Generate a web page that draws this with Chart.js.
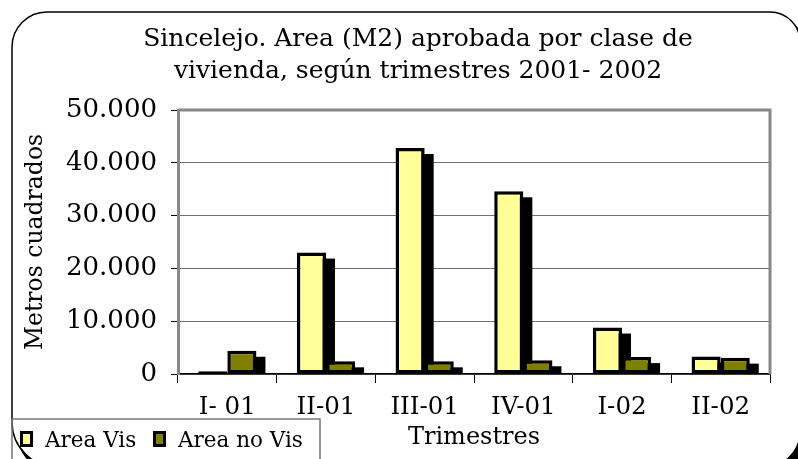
<!DOCTYPE html>
<html>
<head>
<meta charset="utf-8">
<script src="https://cdn.jsdelivr.net/npm/chart.js@4.4.0/dist/chart.umd.min.js"></script>
<style>
  body { margin: 0; background: #fff; }
  #wrap { width: 798px; height: 459px; }
</style>
</head>
<body>
<div id="wrap"><canvas id="areaChart" width="798" height="459"></canvas></div>
<script>
// Datos: área aprobada (m2) por trimestre
const trimestres = ['I- 01', 'II-01', 'III-01', 'IV-01', 'I-02', 'II-02'];
const areaVis = [500, 23000, 42800, 34600, 8800, 3300];
const areaNoVis = [4400, 2400, 2400, 2600, 3200, 3100];
const tituloLineas = ['Sincelejo. Area (M2) aprobada por clase de', 'vivienda, según trimestres 2001- 2002'];
const fuente = 'DejaVu Serif';

// Marco redondeado, sombras de barras, titulo y leyenda
const decoracion = {
    id: 'decoracion',
    beforeDraw(chart) {
        const ctx = chart.ctx;
        ctx.save();
        ctx.fillStyle = '#000';
        ctx.beginPath();
        ctx.roundRect(16, 16, 788, 459, [35, 30, 35, 45]);
        ctx.fill();
        ctx.fillStyle = '#fff';
        ctx.strokeStyle = '#000';
        ctx.lineWidth = 1.5;
        ctx.beginPath();
        ctx.roundRect(12, 12, 788, 455, [35, 30, 35, 45]);
        ctx.fill();
        ctx.stroke();
        ctx.restore();
    },
    beforeDatasetsDraw(chart) {
        const ctx = chart.ctx;
        ctx.save();
        ctx.fillStyle = '#000';
        chart.data.datasets.forEach((ds, i) => {
            chart.getDatasetMeta(i).data.forEach(bar => {
                const p = bar.getProps(['x', 'y', 'width', 'base'], true);
                const h = p.base - p.y - 6;
                if (h > 0) ctx.fillRect(p.x - p.width / 2 + 9, p.y + 6, p.width, h);
            });
        });
        ctx.restore();
    },
    afterDraw(chart) {
        const ctx = chart.ctx;
        const a = chart.chartArea;
        ctx.save();
        // borde gris superior y derecho del area de trazado
        ctx.strokeStyle = '#888';
        ctx.lineWidth = 3;
        ctx.beginPath();
        ctx.moveTo(a.left, a.top);
        ctx.lineTo(a.right, a.top);
        ctx.lineTo(a.right, a.bottom);
        ctx.stroke();

        // titulo
        ctx.fillStyle = '#000';
        ctx.font = '25px "' + fuente + '"';
        ctx.textAlign = 'center';
        ctx.textBaseline = 'alphabetic';
        tituloLineas.forEach((t, i) => ctx.fillText(t, 418, 46 + i * 32));

        // leyenda
        ctx.strokeStyle = '#777';
        ctx.lineWidth = 1.5;
        ctx.strokeRect(12, 419, 308, 60);
        ctx.font = '21.5px "' + fuente + '"';
        ctx.textAlign = 'left';
        const xs = [20, 153];
        chart.data.datasets.forEach((ds, i) => {
            ctx.fillStyle = '#000';
            ctx.fillRect(xs[i], 431, 13, 16);
            ctx.fillStyle = ds.backgroundColor;
            ctx.fillRect(xs[i] + 3, 434, 7, 10);
            ctx.fillStyle = '#000';
            ctx.fillText(ds.label, xs[i] + 25, 447);
        });
        ctx.restore();
    }
};

const ctx = document.getElementById('areaChart').getContext('2d');
new Chart(ctx, {
    type: 'bar',
    data: {
        labels: trimestres,
        datasets: [{
            label: 'Area Vis',
            data: areaVis,
            backgroundColor: '#FFFF99',
            borderColor: '#000',
            borderWidth: 3.5,
            borderSkipped: false
        }, {
            label: 'Area no Vis',
            data: areaNoVis,
            backgroundColor: '#808000',
            borderColor: '#000',
            borderWidth: 3.5,
            borderSkipped: false
        }]
    },
    options: {
        responsive: false,
        animation: false,
        categoryPercentage: 0.59,
        barPercentage: 1.0,
        layout: { padding: { left: 20, top: 110, right: 28, bottom: 0 } },
        plugins: {
            legend: { display: false },
            tooltip: { enabled: false }
        },
        scales: {
            x: {
                afterFit(scale) { scale.height = 85; },
                grid: { offset: true, drawOnChartArea: false, tickLength: 9, tickColor: '#000', lineWidth: 1 },
                border: { color: '#000', width: 1.5 },
                ticks: { color: '#000', padding: 10, font: { family: fuente, size: 24.5 } },
                title: { display: true, text: 'Trimestres', color: '#000', padding: { top: 0, bottom: 7 }, font: { family: fuente, size: 24 } }
            },
            y: {
                min: 0,
                max: 50000,
                afterFit(scale) { scale.width = 158; },
                grid: { color: '#707070', lineWidth: 1, tickLength: 7, tickColor: '#000' },
                border: { color: '#888', width: 3 },
                ticks: {
                    stepSize: 10000,
                    color: '#000',
                    padding: 14,
                    font: { family: fuente, size: 26 },
                    callback: v => v.toLocaleString('de-DE')
                },
                title: { display: true, text: 'Metros cuadrados', color: '#000', padding: { top: 2, bottom: 0 }, font: { family: fuente, size: 23.5 } }
            }
        }
    },
    plugins: [decoracion]
});
</script>
</body>
</html>
